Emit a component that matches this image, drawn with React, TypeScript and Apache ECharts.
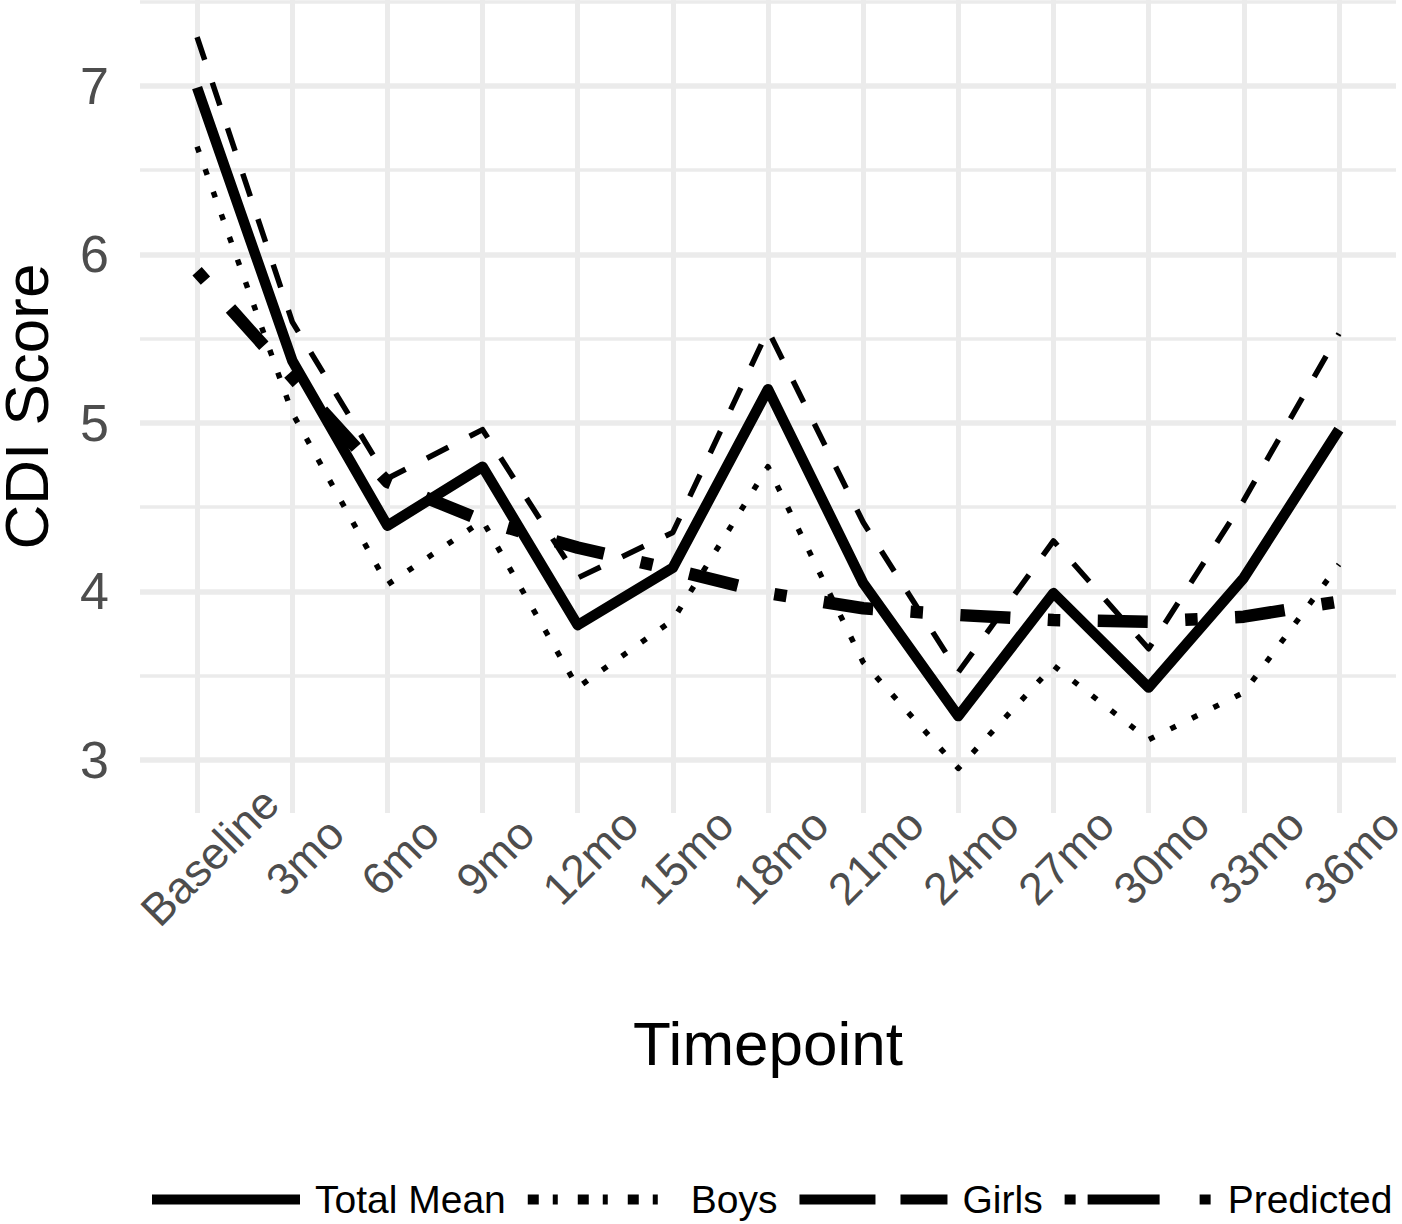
import React, { useEffect, useRef } from "react";
import * as echarts from "echarts";

const categories = ["Baseline", "3mo", "6mo", "9mo", "12mo", "15mo", "18mo", "21mo", "24mo", "27mo", "30mo", "33mo", "36mo"];
const totalMean = [6.99, 5.37, 4.39, 4.74, 3.8, 4.14, 5.2, 4.05, 3.26, 3.99, 3.43, 4.08, 4.96];
const boys = [6.64, 5.06, 4.04, 4.42, 3.43, 3.83, 4.74, 3.58, 2.95, 3.56, 3.12, 3.4, 4.16];
const girls = [7.29, 5.6, 4.67, 4.96, 4.08, 4.35, 5.55, 4.41, 3.52, 4.3, 3.66, 4.54, 5.53];
const predicted = [5.9, 5.27, 4.65, 4.42, 4.26, 4.13, 3.99, 3.9, 3.86, 3.83, 3.82, 3.85, 3.94];
const seriesNames = ["Total Mean", "Boys", "Girls", "Predicted"];

const FONT = "'Liberation Sans', Arial, Helvetica, sans-serif";
const isInt = (v: number) => Math.abs(v - Math.round(v)) < 1e-6;
const pairs = (arr: number[]) => arr.map((v, i) => [i, v]);

export default function App() {
  const ref = useRef<HTMLDivElement>(null);
  useEffect(() => {
    if (!ref.current) return;
    const chart = echarts.init(ref.current, undefined, { renderer: "svg" });
    const lineStyles: any[] = [
      { width: 10.5, type: "solid" },
      { width: 5.5, type: [6, 18] },
      { width: 5.5, type: [24, 24] },
      { width: 12.5, type: [12.5, 37.5, 50, 37.5] },
    ];
    const legendDash: any[] = ["solid", [11, 14, 5, 20], [76, 25], [11, 12, 72, 40]];
    const option: any = {
      animation: false,
      backgroundColor: "#ffffff",
      textStyle: { fontFamily: FONT },
      grid: { left: 140, right: 6, top: 0, bottom: 411, containLabel: false, outerBoundsMode: "none" },
      xAxis: {
        type: "value",
        min: -0.6,
        max: 12.6,
        splitNumber: 13,
        axisLine: { show: false },
        axisTick: { show: false },
        splitLine: { show: true, showMinLine: false, showMaxLine: false, lineStyle: { color: "#ebebeb", width: 5 } },
        axisLabel: {
          formatter: (v: number) => (isInt(v) && categories[Math.round(v)] !== undefined ? categories[Math.round(v)] : ""),
          rotate: 45,
          align: "center",
          verticalAlign: "top",
          lineHeight: 36,
          margin: 31,
          fontSize: 45,
          color: "#4d4d4d",
          fontFamily: FONT,
          showMinLabel: false,
          showMaxLabel: false,
        },
        name: "Timepoint",
        nameLocation: "middle",
        nameGap: 199,
        nameTextStyle: { fontSize: 62, color: "#000000", fontFamily: FONT },
      },
      yAxis: [
        {
          type: "value",
          min: 2.685,
          max: 7.51,
          splitNumber: 5,
          axisLine: { show: false },
          axisTick: { show: false },
          splitLine: { show: true, showMinLine: false, showMaxLine: false, lineStyle: { color: "#ebebeb", width: 5.5 } },
          axisLabel: {
            formatter: (v: number) => (isInt(v) ? String(Math.round(v)) : ""),
            fontSize: 52,
            color: "#4d4d4d",
            margin: 31,
            fontFamily: FONT,
            showMinLabel: false,
            showMaxLabel: false,
          },
          name: "CDI Score",
          nameLocation: "middle",
          nameRotate: 90,
          nameGap: 92,
          nameTextStyle: { fontSize: 62, lineHeight: 44, color: "#000000", fontFamily: FONT },
        },
        {
          type: "value",
          min: 2.685,
          max: 7.51,
          splitNumber: 10,
          position: "left",
          axisLine: { show: false },
          axisTick: { show: false },
          axisLabel: { show: false },
          splitLine: { show: true, showMinLine: false, showMaxLine: false, lineStyle: { color: "#ebebeb", width: 3.5 } },
        },
      ],
      legend: {
        left: 147,
        top: 1180,
        width: 1300,
        padding: 0,
        orient: "horizontal",
        itemWidth: 148,
        itemHeight: 14,
        itemGap: 17,
        textStyle: { fontSize: 39, color: "#000000", fontFamily: FONT, padding: [0, 0, 0, 10] },
        itemStyle: { opacity: 0 },
        data: seriesNames.map((name, i) => ({
          name,
          itemStyle: { opacity: 0 },
          lineStyle: { width: 10, type: legendDash[i], cap: "butt", color: "#000000" },
        })),
      },
      series: [totalMean, boys, girls, predicted].map((arr, i) => ({
        type: "line",
        name: seriesNames[i],
        data: pairs(arr),
        symbol: "none",
        showSymbol: false,
        xAxisIndex: 0,
        yAxisIndex: 0,
        clip: false,
        itemStyle: { color: "#000000" },
        lineStyle: { color: "#000000", width: lineStyles[i].width, type: lineStyles[i].type, cap: "butt", join: "round" },
        z: 2 + i,
      })),
    };
    chart.setOption(option);
    return () => chart.dispose();
  }, []);
  return (
    <div
      ref={ref}
      style={{ position: "fixed", left: 0, top: 0, width: 1402, height: 1224, background: "#fff" }}
    />
  );
}
